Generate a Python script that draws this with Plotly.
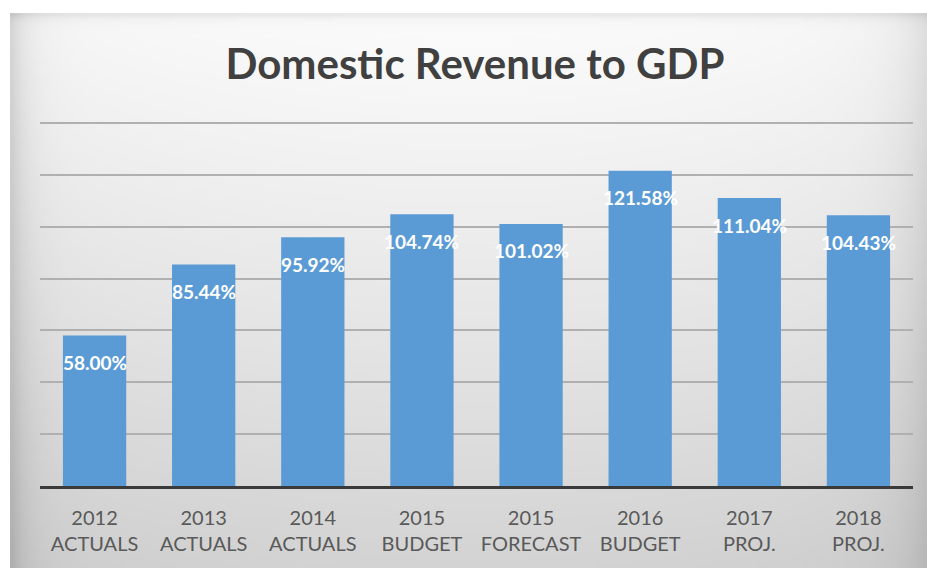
import base64
import math
import struct
import zlib

import plotly.graph_objects as go

# Chart data
years = ["2012", "2013", "2014", "2015", "2015", "2016", "2017", "2018"]
stages = ["ACTUALS", "ACTUALS", "ACTUALS", "BUDGET", "FORECAST", "BUDGET", "PROJ.", "PROJ."]
revenue_to_gdp = [58.00, 85.44, 95.92, 104.74, 101.02, 121.58, 111.04, 104.43]
grid_values = [20, 40, 60, 80, 100, 120, 140]

categories = [f"{y}<br>{s}" for y, s in zip(years, stages)]
ids = list(range(len(revenue_to_gdp)))

W, H = 927, 568
L, R, T, B = 40, 14, 119, 82
plot_w, plot_h = W - L - R, H - T - B
Y_TOP = 141.5


def gradient_png(w, h):
    """Soft grey panel background: light at the top, darker towards edges and bottom."""
    rows = []
    for j in range(h):
        ty = j / (h - 1)
        row = bytearray([0])
        for i in range(w):
            tx = i / (w - 1)
            v = 251 - 40 * (ty ** 1.1)
            v -= 30 * math.exp(-tx / 0.018)
            v -= 22 * math.exp(-(1 - tx) / 0.03)
            v -= 18 * math.exp(-ty / 0.008)
            v -= 6 * (abs(tx - 0.5) * 2) ** 2
            c = max(0, min(255, int(round(v))))
            row += bytes([c, c, c])
        rows.append(bytes(row))
    raw = b"".join(rows)

    def chunk(tag, data):
        return (struct.pack(">I", len(data)) + tag + data
                + struct.pack(">I", zlib.crc32(tag + data) & 0xFFFFFFFF))

    png = b"\x89PNG\r\n\x1a\n"
    png += chunk(b"IHDR", struct.pack(">IIBBBBB", w, h, 8, 2, 0, 0, 0))
    png += chunk(b"IDAT", zlib.compress(raw, 9))
    png += chunk(b"IEND", b"")
    return "data:image/png;base64," + base64.b64encode(png).decode()


# panel edges in pixels -> paper coordinates
fx0, fx1, fy0, fy1 = 10, W, 13, H
px = lambda x: (x - L) / plot_w
py = lambda y: (H - B - y) / plot_h

fig = go.Figure()
fig.add_trace(go.Bar(
    x=ids,
    y=revenue_to_gdp,
    marker=dict(color="#5b9bd5", line=dict(width=0)),
    hoverinfo="skip",
))

for i, v in zip(ids, revenue_to_gdp):
    fig.add_annotation(
        x=i, y=v, text=f"<b>{v:.2f}%</b>", showarrow=False,
        yanchor="middle", yshift=-27,
        font=dict(family="Lato", size=19, color="white"),
    )

fig.update_layout(
    width=W, height=H,
    margin=dict(l=L, r=R, t=T, b=B, pad=0),
    paper_bgcolor="white",
    plot_bgcolor="rgba(0,0,0,0)",
    bargap=0.42,
    showlegend=False,
    title=dict(
        text="<b>Domestic Revenue to GDP</b>",
        font=dict(family="Lato", size=42, color="#404040"),
        x=px(475), xanchor="center", xref="paper",
        y=1 - 64 / H, yanchor="middle",
    ),
    images=[dict(
        source=gradient_png(240, 150),
        xref="paper", yref="paper",
        x=px(fx0), y=py(fy0),
        sizex=px(fx1) - px(fx0), sizey=py(fy0) - py(fy1),
        xanchor="left", yanchor="top",
        sizing="stretch", layer="below",
    )],
    xaxis=dict(
        tickmode="array", tickvals=ids, ticktext=categories,
        range=[-0.5, len(ids) - 0.5],
        tickfont=dict(family="Lato", size=20, color="#595959"),
        showline=True, linecolor="#3a3a3a", linewidth=3,
        showgrid=False, ticks="", ticklabelstandoff=12,
        zeroline=False,
    ),
    yaxis=dict(
        range=[0, Y_TOP], tickmode="array", tickvals=grid_values,
        showticklabels=False, showgrid=True,
        gridcolor="#b0b0b0", gridwidth=1.5,
        zeroline=False, showline=False,
    ),
)

fig.write_html("out.html")
